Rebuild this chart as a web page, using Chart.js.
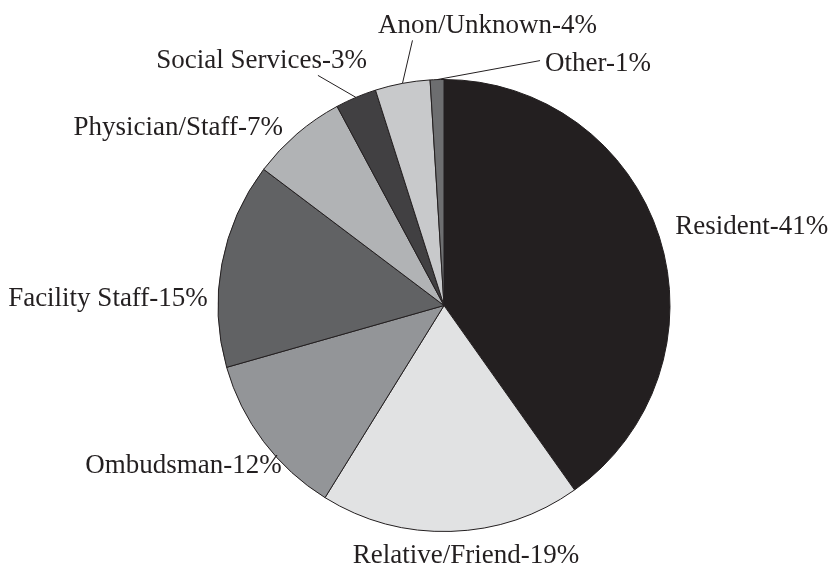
<!DOCTYPE html>
<html>
<head>
<meta charset="utf-8">
<script src="https://cdn.jsdelivr.net/npm/chart.js@4.4.0/dist/chart.umd.min.js"></script>
<style>
    html, body { margin: 0; padding: 0; background: #ffffff; }
    #wrap { width: 830px; height: 567px; position: relative; }
</style>
</head>
<body>
<div id="wrap"><canvas id="sourceChart"></canvas></div>
<script>
// Complaint sources (share of total)
const categories = ['Resident', 'Relative/Friend', 'Ombudsman', 'Facility Staff', 'Physician/Staff', 'Social Services', 'Anon/Unknown', 'Other'];
const percentages = [41, 19, 12, 15, 7, 3, 4, 1];
const sliceColors = ['#231f20', '#e1e2e3', '#939598', '#616264', '#b1b3b5', '#414042', '#c8c9cb', '#6d6e70'];

// Label placement, relative to the outer edge of each slice at its mid angle
// dx/dy = text anchor (alphabetic baseline), line = leader line end
const labelLayout = [
    { dx: 16, dy: -3, align: 'left' },
    { dx: 15, dy: 32, align: 'center' },
    { dx: 18, dy: 31, align: 'right' },
    { dx: -14, dy: 42, align: 'right' },
    { dx: -14, dy: 1, align: 'right' },
    { dx: 11, dy: -29, align: 'right', line: [-38, -22] },
    { dx: 85, dy: -50, align: 'center', line: [10, -43] },
    { dx: 108, dy: -9, align: 'left', line: [103, -19] }
];

const outsideLabels = {
    id: 'outsideLabels',
    afterDatasetsDraw(chart) {
        const ctx = chart.ctx;
        const meta = chart.getDatasetMeta(0);
        ctx.save();
        ctx.font = '27px "Liberation Serif"';
        ctx.fillStyle = '#231f20';
        ctx.strokeStyle = '#231f20';
        ctx.lineWidth = 1;
        ctx.textBaseline = 'alphabetic';
        meta.data.forEach((arc, i) => {
            const p = arc.getProps(['x', 'y', 'startAngle', 'endAngle', 'outerRadius'], true);
            const mid = (p.startAngle + p.endAngle) / 2;
            const rx = p.x + Math.cos(mid) * p.outerRadius;
            const ry = p.y + Math.sin(mid) * p.outerRadius;
            const lay = labelLayout[i];
            if (lay.line) {
                ctx.beginPath();
                ctx.moveTo(rx, ry);
                ctx.lineTo(rx + lay.line[0], ry + lay.line[1]);
                ctx.stroke();
            }
            ctx.textAlign = lay.align;
            ctx.fillText(`${categories[i]}-${percentages[i]}%`, rx + lay.dx, ry + lay.dy);
        });
        ctx.restore();
    }
};

new Chart(document.getElementById('sourceChart'), {
    type: 'pie',
    data: {
        labels: categories,
        datasets: [{
            data: percentages,
            backgroundColor: sliceColors,
            borderColor: '#231f20',
            borderWidth: 1,
            hoverOffset: 0,
            hoverBorderWidth: 1
        }]
    },
    options: {
        responsive: true,
        maintainAspectRatio: false,
        animation: false,
        events: [],
        layout: {
            padding: { left: 214, right: 156, top: 79, bottom: 35 }
        },
        plugins: {
            legend: { display: false },
            tooltip: { enabled: false }
        }
    },
    plugins: [outsideLabels]
});
</script>
</body>
</html>
